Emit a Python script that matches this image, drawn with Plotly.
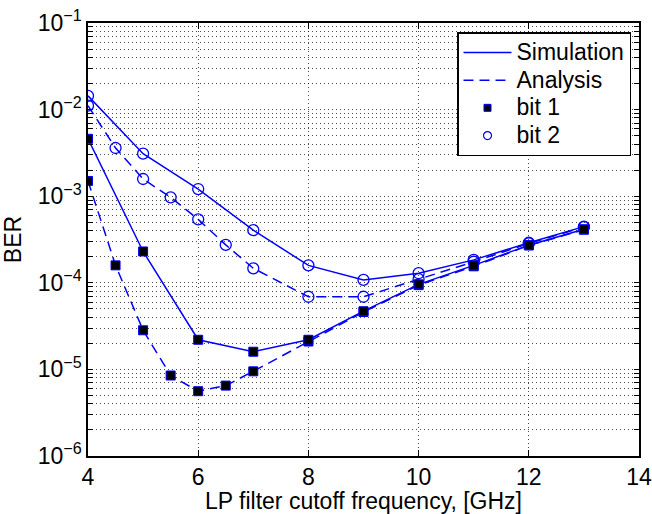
import plotly.graph_objects as go

# Data
x_sim = [4, 5, 6, 7, 8, 9, 10, 11, 12, 13]
sim_bit1 = [4.6e-3, 2.3e-4, 2.2e-5, 1.6e-5, 2.2e-5, 4.7e-5, 9.6e-5, 1.59e-4, 2.72e-4, 4.15e-4]
sim_bit2 = [1.44e-2, 3.1e-3, 1.21e-3, 4.05e-4, 1.59e-4, 1.08e-4, 1.29e-4, 1.84e-4, 2.9e-4, 4.45e-4]

x_ana = [4, 4.5, 5, 5.5, 6, 6.5, 7, 8, 9, 10, 11, 12, 13]
ana_bit1 = [1.5e-3, 1.59e-4, 2.83e-5, 8.5e-6, 5.6e-6, 6.5e-6, 9.5e-6, 2.1e-5, 4.6e-5, 9.4e-5, 1.55e-4, 2.7e-4, 4.1e-4]
ana_bit2 = [1.11e-2, 3.6e-3, 1.58e-3, 9.7e-4, 5.4e-4, 2.74e-4, 1.47e-4, 6.9e-5, 6.9e-5, 1.1e-4, 1.75e-4, 2.85e-4, 4.4e-4]

legend_names = ["Simulation", "Analysis", "bit 1", "bit 2"]
x_ticks = [4, 6, 8, 10, 12, 14]
y_decades = [-6, -5, -4, -3, -2, -1]
y_minor_digits = [2, 3, 4, 5, 6, 7, 8, 9]

BLUE = "#0000ff"
FONT = "Liberation Sans, Arial, sans-serif"
DASH = "10px,6px"
GRID = "rgba(0,0,0,0.7)"
GRIDDASH = "1px,3px"
FS = 23

# y tick values (major decades labelled, minor digits unlabelled)
y_tickvals, y_ticktext = [], []
for d in y_decades:
    y_tickvals.append(10.0 ** d)
    y_ticktext.append("10<sup>\u2212%d</sup>" % (-d))
    if d < -1:
        for m in y_minor_digits:
            y_tickvals.append(m * 10.0 ** d)
            y_ticktext.append("")

def lname(s):
    return '<span style="font-size:%dpx">%s</span>' % (FS, s)

sq = dict(symbol="square", size=9, color="black", line=dict(color=BLUE, width=1))
circ = dict(symbol="circle-open", size=11, color=BLUE, line=dict(width=1.3))

fig = go.Figure()
fig.add_trace(go.Scatter(x=x_sim, y=sim_bit2, mode="lines+markers", line=dict(color=BLUE, width=1.5),
                         marker=circ, showlegend=False))
fig.add_trace(go.Scatter(x=x_ana, y=ana_bit2, mode="lines+markers", line=dict(color=BLUE, width=1.5, dash=DASH),
                         marker=circ, showlegend=False))
fig.add_trace(go.Scatter(x=x_ana, y=ana_bit1, mode="lines+markers", line=dict(color=BLUE, width=1.5, dash=DASH),
                         marker=sq, showlegend=False))
fig.add_trace(go.Scatter(x=x_sim, y=sim_bit1, mode="lines+markers", line=dict(color=BLUE, width=1.5),
                         marker=sq, showlegend=False))

# legend entries
fig.add_trace(go.Scatter(x=[None], y=[None], mode="lines", line=dict(color=BLUE, width=1.5),
                         name=lname(legend_names[0])))
fig.add_trace(go.Scatter(x=[None], y=[None], mode="lines", line=dict(color=BLUE, width=1.5, dash=DASH),
                         name=lname(legend_names[1])))
fig.add_trace(go.Scatter(x=[None], y=[None], mode="markers",
                         marker=dict(symbol="square", size=7, color="black", line=dict(color=BLUE, width=1)),
                         name=lname(legend_names[2])))
fig.add_trace(go.Scatter(x=[None], y=[None], mode="markers",
                         marker=dict(symbol="circle-open", size=8, color=BLUE, line=dict(width=1.2)),
                         name=lname(legend_names[3])))

fig.update_layout(
    width=652, height=514,
    margin=dict(l=88, r=13, t=23, b=58, autoexpand=False),
    paper_bgcolor="white", plot_bgcolor="white",
    font=dict(family=FONT, size=FS, color="black"),
    legend=dict(x=0.9855, y=0.979, xanchor="right", yanchor="top",
                bgcolor="white", bordercolor="black", borderwidth=1.5,
                font=dict(size=19), tracegroupgap=0, itemwidth=48),
)
fig.update_xaxes(
    range=[4, 14], tickvals=x_ticks, ticks="inside", ticklen=6, tickcolor="black",
    showline=True, linecolor="black", linewidth=1.5, mirror="ticks",
    showgrid=True, gridcolor=GRID, griddash=GRIDDASH, gridwidth=1,
    zeroline=False, tickfont=dict(size=FS), automargin=False,
    title=dict(text="LP filter cutoff frequency, [GHz]", standoff=1, font=dict(size=23)),
)
fig.update_yaxes(
    type="log", range=[-6, -1], tickvals=y_tickvals, ticktext=y_ticktext,
    ticks="inside", ticklen=5, tickcolor="black",
    showline=True, linecolor="black", linewidth=1.5, mirror="ticks",
    showgrid=True, gridcolor=GRID, griddash=GRIDDASH, gridwidth=1,
    tickfont=dict(size=FS), automargin=False,
    title=dict(text="BER", standoff=10, font=dict(size=FS)),
)

fig.write_html("out.html", config={"displayModeBar": False},
               post_script="document.body.style.margin='0';document.body.style.padding='0';")
